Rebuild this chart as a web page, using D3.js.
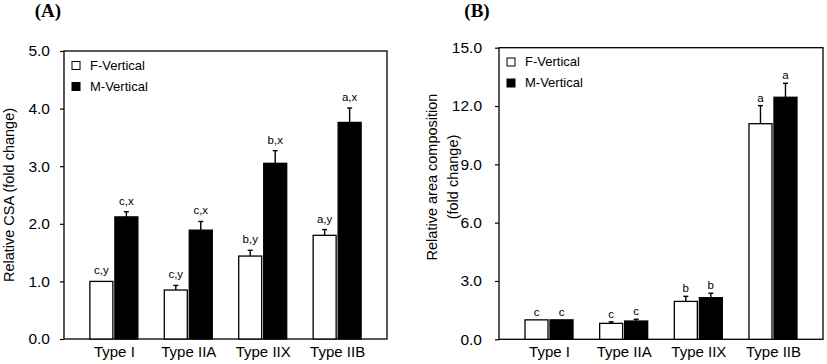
<!DOCTYPE html>
<html>
<head>
<meta charset="utf-8">
<script src="https://cdn.jsdelivr.net/npm/d3@7"></script>
<style>
  body { margin: 0; background: #fff; }
  svg { display: block; font-family: "Liberation Sans", Arial, sans-serif; }
</style>
</head>
<body>
<div id="chart"></div>
<script>
'use strict';

// categories and series
var categories = ['Type I', 'Type IIA', 'Type IIX', 'Type IIB'];
var series = ['F-Vertical', 'M-Vertical'];

// panel A: relative CSA
var csaF = [1.00, 0.85, 1.44, 1.80];
var csaFErr = [0.00, 0.08, 0.10, 0.10];
var csaM = [2.12, 1.89, 3.05, 3.76];
var csaMErr = [0.09, 0.15, 0.22, 0.25];
var csaFLabels = ['c,y', 'c,y', 'b,y', 'a,y'];
var csaMLabels = ['c,x', 'c,x', 'b,x', 'a,x'];
var csaTicks = [0, 1, 2, 3, 4, 5];

// panel B: relative area composition
var areaF = [1.00, 0.82, 1.95, 11.09];
var areaFErr = [0.00, 0.08, 0.26, 0.93];
var areaM = [1.00, 0.94, 2.14, 12.45];
var areaMErr = [0.00, 0.09, 0.23, 0.72];
var areaFLabels = ['c', 'c', 'b', 'a'];
var areaMLabels = ['c', 'c', 'b', 'a'];
var areaTicks = [0, 3, 6, 9, 12, 15];

var svg = d3.select('#chart').append('svg')
    .attr('width', 827)
    .attr('height', 364);

function rows(fv, fe, fl, mv, me, ml) {
    var out = [];
    categories.forEach(function (c, i) {
        out.push({cat: c, s: series[0], v: fv[i], e: fe[i], lab: fl[i]});
        out.push({cat: c, s: series[1], v: mv[i], e: me[i], lab: ml[i]});
    });
    return out;
}

function drawPanel(opt) {
    var g = svg.append('g');

    var y = d3.scaleLinear().domain([0, opt.max]).range([opt.bottom, opt.top]);
    var x = d3.scalePoint().domain(categories).range([opt.left, opt.right]).padding(0.67);
    var xs = d3.scaleBand().domain(series).range([-24, 24]).paddingInner(0.08);
    var color = d3.scaleOrdinal().domain(series).range(['#fff', '#000']);

    // panel letter
    g.append('text')
        .attr('x', opt.titleX)
        .attr('y', 17)
        .attr('text-anchor', 'middle')
        .style('font-family', '"Liberation Serif", "Times New Roman", serif')
        .style('font-weight', 'bold')
        .style('font-size', '19px')
        .text(opt.title);

    // y axis
    var yAxis = d3.axisLeft(y)
        .tickValues(opt.ticks)
        .tickFormat(d3.format('.1f'))
        .tickSizeOuter(0)
        .tickSize(4)
        .tickPadding(opt.tickPad);
    var ya = g.append('g')
        .attr('transform', 'translate(' + opt.left + ',0)')
        .call(yAxis);
    ya.select('.domain').remove();
    ya.selectAll('text')
        .style('font-size', '15.5px')
        .style('font-family', '"Liberation Sans", Arial, sans-serif')
        .attr('fill', '#000');
    ya.selectAll('line').attr('stroke', '#000').attr('stroke-width', 1.2);

    // frame
    g.append('rect')
        .attr('x', opt.left)
        .attr('y', opt.top)
        .attr('width', opt.right - opt.left)
        .attr('height', opt.bottom - opt.top)
        .attr('fill', 'none')
        .attr('stroke', '#000')
        .attr('stroke-width', 1.3);

    // x labels
    var xa = g.append('g')
        .attr('transform', 'translate(0,' + opt.bottom + ')')
        .call(d3.axisBottom(x).tickSize(0).tickPadding(7));
    xa.select('.domain').remove();
    xa.selectAll('text')
        .style('font-size', '15px')
        .style('font-family', '"Liberation Sans", Arial, sans-serif')
        .attr('fill', '#000')
        .attr('dy', '0.71em');

    // y title
    opt.yTitle.forEach(function (line, i) {
        g.append('text')
            .attr('transform', 'translate(' + opt.yTitleX[i] + ',' + opt.yTitleY + ') rotate(-90)')
            .attr('text-anchor', 'middle')
            .attr('dominant-baseline', 'central')
            .style('font-size', '14.5px')
            .text(line);
    });

    // bars
    var bars = g.selectAll('g.bar')
        .data(opt.data)
        .enter()
        .append('g')
        .attr('class', 'bar')
        .attr('transform', function (d) { return 'translate(' + (x(d.cat) + xs(d.s)) + ',0)'; });

    bars.append('line')
        .attr('x1', xs.bandwidth() / 2)
        .attr('x2', xs.bandwidth() / 2)
        .attr('y1', function (d) { return y(d.v); })
        .attr('y2', function (d) { return y(d.v + d.e); })
        .attr('stroke', '#000')
        .attr('stroke-width', 1.4);

    bars.filter(function (d) { return d.e > 0; })
        .append('line')
        .attr('x1', xs.bandwidth() / 2 - 2.5)
        .attr('x2', xs.bandwidth() / 2 + 2.5)
        .attr('y1', function (d) { return y(d.v + d.e); })
        .attr('y2', function (d) { return y(d.v + d.e); })
        .attr('stroke', '#000')
        .attr('stroke-width', 1.4);

    bars.append('rect')
        .attr('x', 0)
        .attr('y', function (d) { return y(d.v); })
        .attr('width', xs.bandwidth())
        .attr('height', function (d) { return y(0) - y(d.v); })
        .attr('fill', function (d) { return color(d.s); })
        .attr('stroke', '#000')
        .attr('stroke-width', 1.3);

    bars.append('text')
        .attr('x', xs.bandwidth() / 2)
        .attr('y', function (d) { return y(d.v + d.e) - opt.labGap; })
        .attr('text-anchor', 'middle')
        .style('font-size', '11.5px')
        .text(function (d) { return d.lab; });

    // legend
    var leg = g.selectAll('g.legend')
        .data(series)
        .enter()
        .append('g')
        .attr('class', 'legend')
        .attr('transform', function (d, i) {
            return 'translate(' + opt.legX + ',' + (opt.legY + i * 21) + ')';
        });
    leg.append('rect')
        .attr('x', 0)
        .attr('y', -7.5)
        .attr('width', 8)
        .attr('height', 8)
        .attr('fill', function (d) { return color(d); })
        .attr('stroke', '#000')
        .attr('stroke-width', 1);
    leg.append('text')
        .attr('x', 18)
        .attr('y', 0.5)
        .style('font-size', '13px')
        .text(function (d) { return d; });
}

drawPanel({
    title: '(A)', titleX: 48,
    left: 64, right: 387, top: 51, bottom: 339,
    max: 5, ticks: csaTicks, tickPad: 10,
    yTitle: ['Relative CSA (fold change)'], yTitleX: [9], yTitleY: 195,
    legX: 72, legY: 69, labGap: 7,
    data: rows(csaF, csaFErr, csaFLabels, csaM, csaMErr, csaMLabels)
});

drawPanel({
    title: '(B)', titleX: 477,
    left: 499, right: 823, top: 47.7, bottom: 339.3,
    max: 15, ticks: areaTicks, tickPad: 13,
    yTitle: ['Relative area composition', '(fold change)'], yTitleX: [432, 453], yTitleY: 177,
    legX: 507, legY: 65.5, labGap: 4,
    data: rows(areaF, areaFErr, areaFLabels, areaM, areaMErr, areaMLabels)
});
</script>
</body>
</html>
